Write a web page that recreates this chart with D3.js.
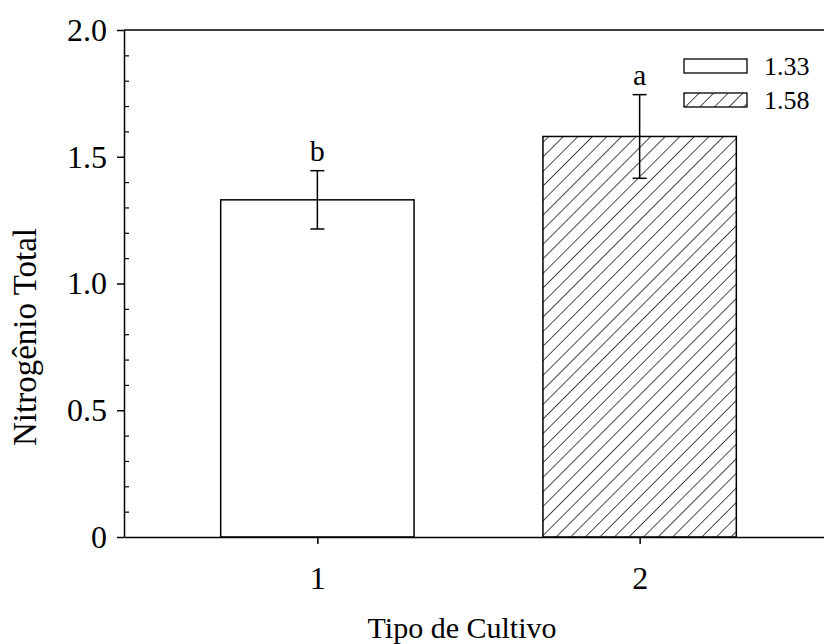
<!DOCTYPE html>
<html>
<head>
<meta charset="utf-8">
<script src="https://cdn.jsdelivr.net/npm/d3@7"></script>
<style>
  body { margin: 0; background: #fff; }
  svg text { font-family: "Liberation Serif", "Times New Roman", serif; fill: #000; }
</style>
</head>
<body>
<div id="chart"></div>
<script>
// data
var categories = [1, 2];
var means = [1.33, 1.58];
var errors = [0.115, 0.165];
var letters = ["b", "a"];
var legendLabels = ["1.33", "1.58"];
var yMajor = [0, 0.5, 1.0, 1.5, 2.0];
var yMajorLabels = ["0", "0.5", "1.0", "1.5", "2.0"];
var yMinor = [0.1, 0.2, 0.3, 0.4, 0.6, 0.7, 0.8, 0.9, 1.1, 1.2, 1.3, 1.4, 1.6, 1.7, 1.8, 1.9];

var width = 824, height = 644;
var mLeft = 124, mTop = 30, mRight = 833, mBottom = 537;

var svg = d3.select("#chart").append("svg")
    .attr("width", width)
    .attr("height", height);

var defs = svg.append("defs");
var pat = defs.append("pattern")
    .attr("id", "hatch")
    .attr("patternUnits", "userSpaceOnUse")
    .attr("width", 10.3)
    .attr("height", 10.3)
    .attr("patternTransform", "rotate(45)");
pat.append("rect").attr("width", 10.3).attr("height", 10.3).attr("fill", "#fff");
pat.append("line")
    .attr("x1", 0).attr("y1", 0).attr("x2", 0).attr("y2", 10.3)
    .attr("stroke", "#000").attr("stroke-width", 1.4);

var x = d3.scaleLinear().domain([0.4, 2.6]).range([mLeft, mRight]);
var y = d3.scaleLinear().domain([0, 2]).range([mBottom, mTop]);
var barW = x(1.6) - x(1);
var fills = ["#fff", "url(#hatch)"];

// bars
svg.selectAll(".bar")
    .data(categories)
  .enter().append("rect")
    .attr("class", "bar")
    .attr("x", function(d) { return x(d) - barW / 2; })
    .attr("y", function(d, i) { return y(means[i]); })
    .attr("width", barW)
    .attr("height", function(d, i) { return y(0) - y(means[i]); })
    .attr("fill", function(d, i) { return fills[i]; })
    .attr("stroke", "#000")
    .attr("stroke-width", 1.5);

// error bars
var eb = svg.selectAll(".err")
    .data(categories)
  .enter().append("g")
    .attr("class", "err")
    .attr("stroke", "#000")
    .attr("stroke-width", 1.5);
eb.append("line")
    .attr("x1", function(d) { return x(d); })
    .attr("x2", function(d) { return x(d); })
    .attr("y1", function(d, i) { return y(means[i] + errors[i]); })
    .attr("y2", function(d, i) { return y(means[i] - errors[i]); });
eb.append("line")
    .attr("x1", function(d) { return x(d) - 7; })
    .attr("x2", function(d) { return x(d) + 7; })
    .attr("y1", function(d, i) { return y(means[i] + errors[i]); })
    .attr("y2", function(d, i) { return y(means[i] + errors[i]); });
eb.append("line")
    .attr("x1", function(d) { return x(d) - 7; })
    .attr("x2", function(d) { return x(d) + 7; })
    .attr("y1", function(d, i) { return y(means[i] - errors[i]); })
    .attr("y2", function(d, i) { return y(means[i] - errors[i]); });

// letters above error bars
svg.selectAll(".letter")
    .data(categories)
  .enter().append("text")
    .attr("class", "letter")
    .attr("x", function(d) { return x(d); })
    .attr("y", function(d, i) { return y(means[i] + errors[i]) - 10; })
    .attr("text-anchor", "middle")
    .attr("font-size", 30)
    .text(function(d, i) { return letters[i]; });

// top frame line
svg.append("line")
    .attr("x1", mLeft).attr("x2", mRight)
    .attr("y1", mTop).attr("y2", mTop)
    .attr("stroke", "#000").attr("stroke-width", 1.5);

// y axis: minor ticks inside, major ticks outside
var yMin = svg.append("g")
    .attr("transform", "translate(" + mLeft + ",0)")
    .call(d3.axisLeft(y).tickValues(yMinor).tickSize(-5).tickFormat(""));
yMin.select(".domain").remove();
yMin.selectAll("line").attr("stroke-width", 1.2);

var yAx = svg.append("g")
    .attr("transform", "translate(" + mLeft + ",0)")
    .call(d3.axisLeft(y).tickValues(yMajor).tickSize(7).tickSizeOuter(0).tickPadding(10)
      .tickFormat(function(d, i) { return yMajorLabels[i]; }));
yAx.select(".domain").attr("stroke-width", 1.5);
yAx.selectAll("line").attr("stroke-width", 1.5);
yAx.selectAll("text").attr("font-size", 32).attr("font-family", null);

// x axis
var xAx = svg.append("g")
    .attr("transform", "translate(0," + mBottom + ")")
    .call(d3.axisBottom(x).tickValues(categories).tickSize(7).tickSizeOuter(0).tickPadding(22)
      .tickFormat(d3.format("d")));
xAx.select(".domain").attr("stroke-width", 1.5);
xAx.selectAll("line").attr("stroke-width", 1.5);
xAx.selectAll("text").attr("font-size", 32).attr("font-family", null);

// axis titles
svg.append("text")
    .attr("x", 462)
    .attr("y", 638)
    .attr("text-anchor", "middle")
    .attr("font-size", 30)
    .text("Tipo de Cultivo");

svg.append("text")
    .attr("transform", "translate(36,337) rotate(-90)")
    .attr("text-anchor", "middle")
    .attr("font-size", 33)
    .text("Nitrogênio Total");

// legend
var leg = svg.selectAll(".leg")
    .data(legendLabels)
  .enter().append("g")
    .attr("class", "leg")
    .attr("transform", function(d, i) { return "translate(684," + (59 + i * 34) + ")"; });
leg.append("rect")
    .attr("width", 63)
    .attr("height", 14)
    .attr("fill", function(d, i) { return fills[i]; })
    .attr("stroke", "#000")
    .attr("stroke-width", 1.3);
leg.append("text")
    .attr("x", 80)
    .attr("y", 16)
    .attr("font-size", 26)
    .text(function(d) { return d; });
</script>
</body>
</html>
